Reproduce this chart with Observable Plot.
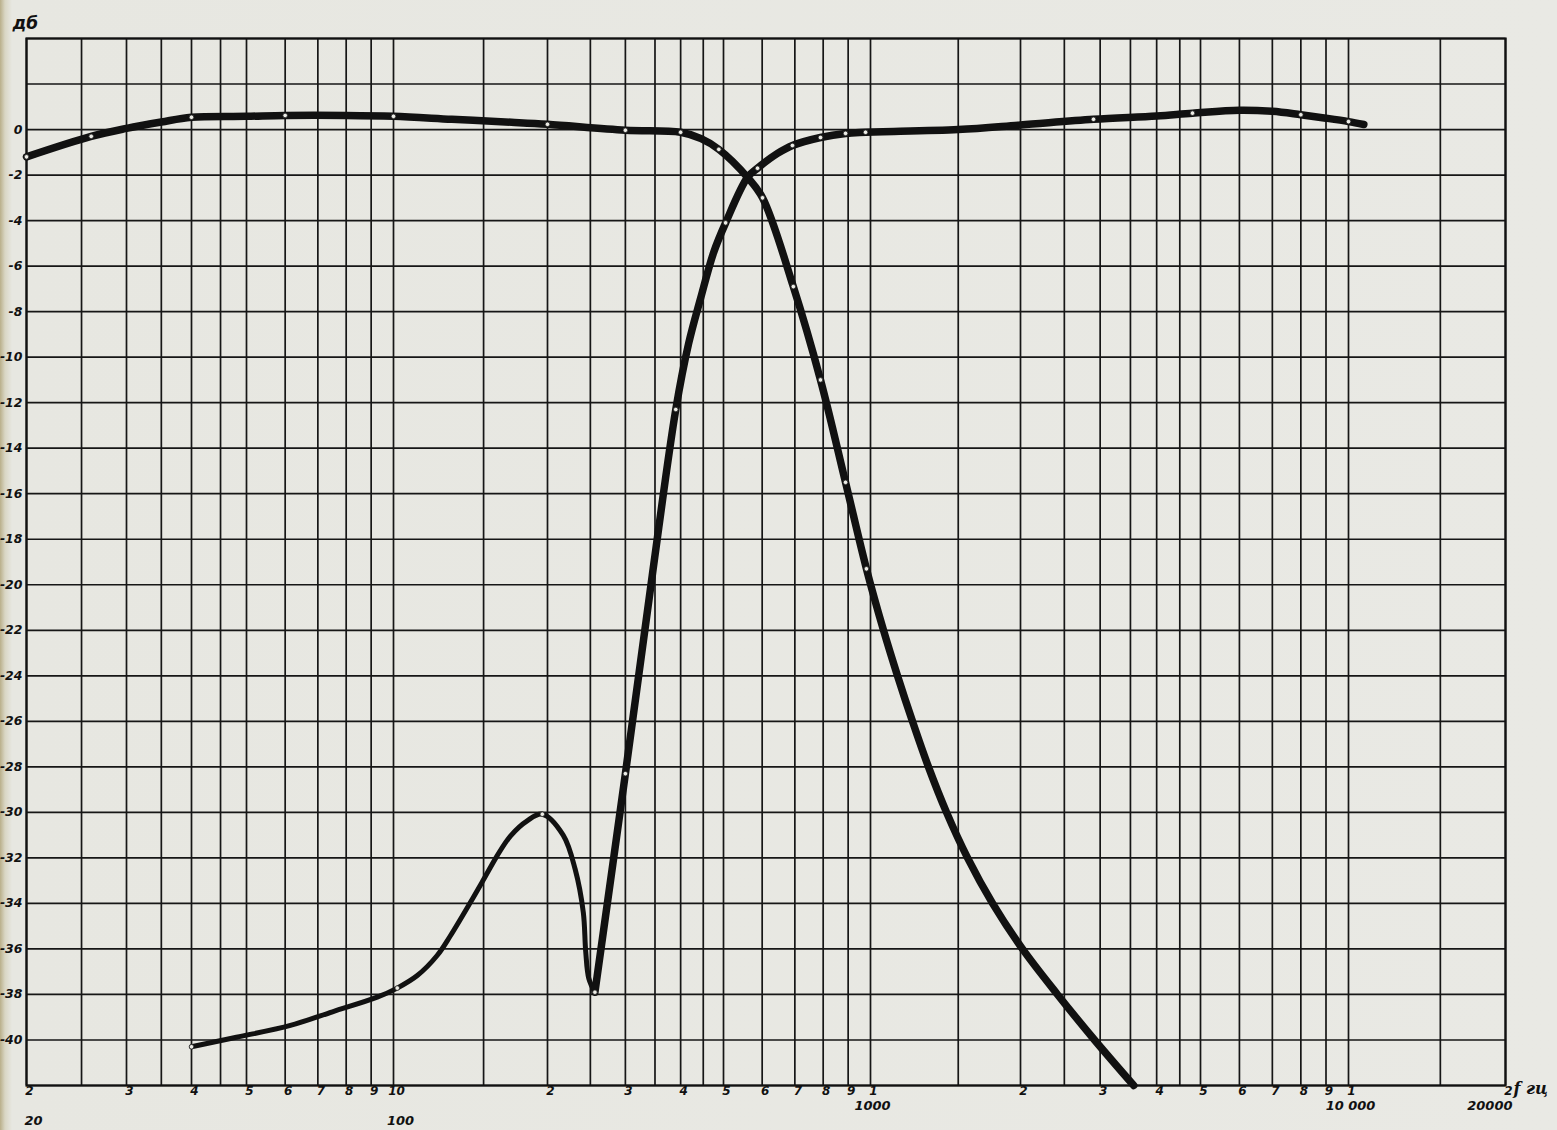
<!DOCTYPE html>
<html><head><meta charset="utf-8">
<script src="https://cdn.jsdelivr.net/npm/d3@7"></script>
<script src="https://cdn.jsdelivr.net/npm/@observablehq/plot@0.6"></script>
<style>
html,body{margin:0;padding:0;}
body{width:1557px;height:1130px;overflow:hidden;background:linear-gradient(90deg,#b9af8a 0px,#d9d6c4 5px,#e7e7e1 12px,#e9e9e4 100%);}
</style></head><body><div id="chart"></div>
<script>
// Low-pass branch (frequency, dB)
const lowFreq = [20, 26, 30, 35, 40, 50, 60, 80, 100, 130, 170, 200, 300, 400, 445, 488, 560, 601, 695, 790, 889, 981, 1062, 1133, 1214, 1307, 1421, 1566, 1758, 2020, 2414, 2916, 3560];
const lowDb   = [-1.2, -0.3, 0.05, 0.33, 0.54, 0.58, 0.62, 0.62, 0.58, 0.45, 0.32, 0.23, -0.03, -0.12, -0.4, -0.87, -2.1, -3.0, -6.9, -11.0, -15.5, -19.3, -22, -24, -26, -28, -30, -32, -34, -36, -38, -40, -42];
// High-pass branch, lower (thin) part down into the notch
const highFreqA = [40, 48, 61.5, 75, 92.6, 101.7, 111.3, 121.7, 129.2, 141.4, 150.2, 159.4, 169.4, 182.5, 195.4, 217, 231, 241, 244, 248, 256];
const highDbA   = [-40.3, -39.88, -39.36, -38.76, -38.12, -37.72, -37.17, -36.29, -35.42, -33.95, -32.93, -31.91, -31.03, -30.37, -30.08, -31.0, -32.5, -34.4, -36.1, -37.3, -37.9];
// High-pass branch, rising (thick) part
const highFreqB = [256, 300, 345, 390, 417, 444, 475, 505, 560, 587, 645, 692, 790, 889, 977, 1500, 2000, 2900, 4000, 4800, 6000, 7000, 8000, 9000, 10000, 10700];
const highDbB   = [-37.9, -28.3, -19.6, -12.3, -9.4, -7.4, -5.4, -4.1, -2.1, -1.7, -1.05, -0.7, -0.35, -0.17, -0.12, 0.0, 0.2, 0.45, 0.6, 0.72, 0.85, 0.8, 0.65, 0.5, 0.35, 0.22];
// measured points drawn as small circles
const lowMarks  = [20, 26, 40, 60, 100, 200, 300, 400, 488, 601, 695, 790, 889, 981];
const highMarks = [40, 101.7, 195.4, 256, 300, 390, 505, 587, 692, 790, 889, 977, 2900, 4800, 8000, 10000];

// grid & ticks
const xGrid = [20,25,30,35,40,45,50,60,70,80,90,100,150,200,250,300,350,400,450,500,600,700,800,900,1000,1500,2000,2500,3000,3500,4000,4500,5000,6000,7000,8000,9000,10000,15000,20000];
const xTicks = [20,30,40,50,60,70,80,90,100,200,300,400,500,600,700,800,900,1000,2000,3000,4000,5000,6000,7000,8000,9000,10000,20000];
const xTickText = ["2","3","4","5","6","7","8","9","10","2","3","4","5","6","7","8","9","1","2","3","4","5","6","7","8","9","1","2"];
const yGrid = [4,2,0,-2,-4,-6,-8,-10,-12,-14,-16,-18,-20,-22,-24,-26,-28,-30,-32,-34,-36,-38,-40,-42];
const yTicks = [0,-2,-4,-6,-8,-10,-12,-14,-16,-18,-20,-22,-24,-26,-28,-30,-32,-34,-36,-38,-40];
const decadeLowF = [20, 100];
const decadeLowText = ["20", "100"];
const decadeHighF = [1000, 10000];
const decadeHighText = ["1000", "10 000"];
const lastF = [20000];
const lastText = ["20000"];

// the hand-ruled log paper is not perfectly uniform: piecewise log scale
const knotF  = [20, 30, 40, 50, 100, 200, 500, 1000, 2000, 5000, 10000, 20000];
const knotPx = [26, 126, 191, 246, 393, 547, 723, 870, 1020, 1200, 1348, 1505];

const zip = (fs, ds) => fs.map((f, i) => ({f, db: ds[i]}));
const low = zip(lowFreq, lowDb);
const highA = zip(highFreqA, highDbA);
const highB = zip(highFreqB, highDbB);
const lookup = (rows, fs) => fs.map(f => rows.find(r => r.f === f));
const marks = [...lookup(low, lowMarks), ...lookup([...highA, ...highB], highMarks)];

const ink = "#111";
const chart = Plot.plot({
  width: 1557,
  height: 1130,
  marginLeft: 26,
  marginRight: 52,
  marginTop: 38,
  marginBottom: 45,
  style: {background: "transparent", fontFamily: "DejaVu Sans", fontStyle: "italic", fontWeight: "bold", color: ink},
  x: {type: "log", domain: knotF, range: knotPx, label: null, axis: null},
  y: {domain: [-42, 4], label: null},
  marks: [
    Plot.ruleX(xGrid, {stroke: "#161616", strokeWidth: 1.7}),
    Plot.ruleY(yGrid, {stroke: "#161616", strokeWidth: 1.7}),
    Plot.frame({stroke: ink, strokeWidth: 2.2}),
    // x tick digits under the lines
    Plot.text(xTicks, {x: d => d, text: (d, i) => xTickText[i], frameAnchor: "bottom", dy: 9, dx: 3, fontSize: 12}),
    Plot.axisY({ticks: yTicks, tickFormat: d => String(d), tickSize: 0, tickPadding: 4, fontSize: 12.5, label: null}),
    Plot.text(decadeLowF, {x: d => d, text: (d, i) => decadeLowText[i], frameAnchor: "bottom", dy: 39, dx: 7, fontSize: 13}),
    Plot.text(decadeHighF, {x: d => d, text: (d, i) => decadeHighText[i], frameAnchor: "bottom", dy: 24, dx: 2, fontSize: 13}),
    Plot.text(lastF, {x: d => d, text: (d, i) => lastText[i], frameAnchor: "bottom", dy: 24, dx: 7, textAnchor: "end", fontSize: 13}),
    Plot.line(low, {x: "f", y: "db", curve: "catmull-rom", stroke: ink, strokeWidth: 7.5, strokeLinejoin: "round"}),
    Plot.line(highA, {x: "f", y: "db", curve: "catmull-rom", stroke: ink, strokeWidth: 5, strokeLinejoin: "round"}),
    Plot.line(highB, {x: "f", y: "db", curve: "catmull-rom", stroke: ink, strokeWidth: 7.5, strokeLinejoin: "round"}),
    Plot.dot(marks, {x: "f", y: "db", r: 2.3, fill: "#ecece6", stroke: "#222", strokeWidth: 0.8}),
    Plot.text(["дб"], {frameAnchor: "top-left", dx: -14, dy: -10, textAnchor: "start", lineAnchor: "bottom", fontSize: 17}),
    Plot.text(["f гц"], {frameAnchor: "bottom-right", dx: 8, dy: 8, textAnchor: "start", lineAnchor: "bottom", fontSize: 16, fontFamily: "DejaVu Serif"})
  ]
});
document.getElementById("chart").appendChild(chart);
</script></body></html>
